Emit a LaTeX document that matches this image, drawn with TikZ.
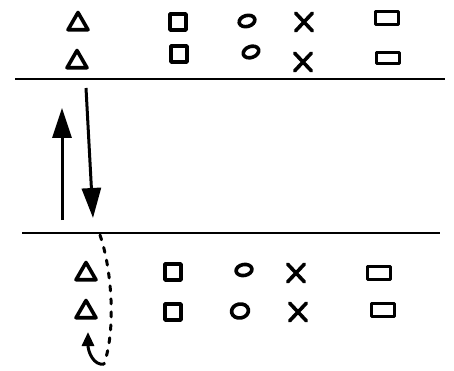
\documentclass[tikz,border=0pt]{standalone}
\usetikzlibrary{shapes.geometric,shapes.misc,arrows.meta}
\begin{document}
\begin{tikzpicture}[x=1pt,y=-1pt,
  ink/.style={line width=3.6pt,line cap=round,line join=round},
  tri/.style={ink,draw,regular polygon,regular polygon sides=3,minimum size=23pt,inner sep=0pt,yshift=-2pt},
  sq/.style={ink,draw,rectangle,minimum width=16pt,minimum height=16pt,inner sep=0pt},
  circ/.style={ink,draw,ellipse,minimum width=16pt,minimum height=11pt,inner sep=0pt},
  cross/.style={ink,draw,cross out,minimum width=13pt,minimum height=14pt,inner sep=0pt},
  box/.style={ink,draw,rectangle,minimum width=23pt,minimum height=13pt,inner sep=0pt},
  rule/.style={line width=2.6pt},
  bigarrow/.style={line width=3pt,-{Triangle[length=30pt,width=19pt]}}
]
\useasboundingbox (0,0) rectangle (454,371);
% top rows
\node[tri] (t1) at (78,22) {};
\node[sq] (s1) at (178,22) {};
\node[circ,rotate=15] (c1) at (247,21) {};
\node[cross] (x1) at (304,22) {};
\node[box] (b1) at (387,18) {};
\node[tri] (t2) at (77,60) {};
\node[sq] (s2) at (179,54) {};
\node[circ,rotate=20] (c2) at (251,52) {};
\node[cross] (x2) at (303,62) {};
\node[box,minimum height=11pt] (b2) at (388,58) {};
% top rule
\coordinate (la) at (15,79);
\coordinate (lb) at (445,79);
\draw[rule] (la) -- (lb);
% arrows
\coordinate (ua) at (62,220);
\coordinate (ub) at (62,108);
\draw[bigarrow] (ua) -- (ub);
\coordinate (da) at (86,88);
\coordinate (db) at (93,218);
\draw[bigarrow] (da) -- (db);
% bottom rule
\coordinate (ma) at (22,233);
\coordinate (mb) at (440,233);
\draw[rule] (ma) -- (mb);
% bottom rows
\node[tri] (t3) at (86,272) {};
\node[sq] (s3) at (173,272) {};
\node[circ,rotate=10] (c3) at (244,270) {};
\node[cross] (x3) at (296,273) {};
\node[box] (b3) at (379,273) {};
\node[tri] (t4) at (86,310) {};
\node[sq] (s4) at (173,312) {};
\node[circ,rotate=10,minimum width=17pt,minimum height=14pt] (c4) at (240,311) {};
\node[cross] (x4) at (298,312) {};
\node[box] (b4) at (383,310) {};
% dotted path and return arrow
\coordinate (pa) at (100,235);
\coordinate (pb) at (104,364);
\coordinate (pc) at (88,332);
\draw[line width=3pt,dash pattern=on 5pt off 8pt,line cap=round] (pa) .. controls (112,270) and (116,330) .. (pb);
\draw[line width=3pt,-{Triangle[length=14pt,width=12pt]}] (pb) .. controls (94,366) and (88,352) .. (pc);
\end{tikzpicture}
\end{document}
